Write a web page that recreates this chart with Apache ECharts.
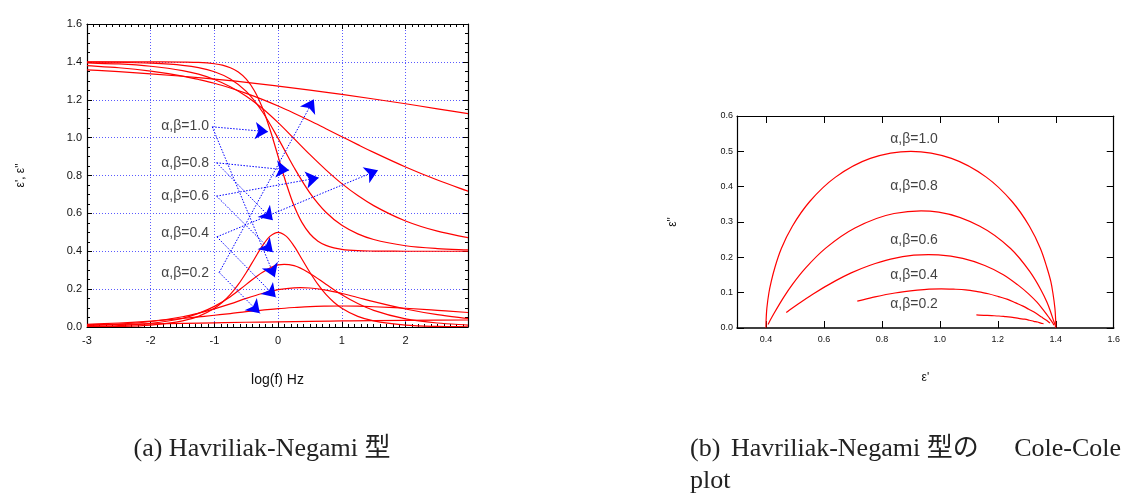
<!DOCTYPE html>
<html>
<head>
<meta charset="utf-8">
<script src="https://cdn.jsdelivr.net/npm/echarts@6/dist/echarts.min.js"></script>
<style>
html,body{margin:0;padding:0;background:#fff;}
#c{width:1123px;height:494px;}
</style>
</head>
<body>
<div id="c"></div>
<script>
// log(f) grids
const xA = [-3,-2.5,-2,-1.5,-1,-0.5,0,0.5,1,1.5,2,2.5,3];
const xB = [-3,-2.5,-2,-1.5,-1.25,-1,-0.75,-0.5,-0.25,0,0.25,0.5,0.75,1,1.25,1.5,2,2.5,3];
const xC = [-3,-2.5,-2,-1.5,-1.25,-1,-0.875,-0.75,-0.625,-0.5,-0.375,-0.25,-0.125,0,0.125,0.25,0.375,0.5,0.625,0.75,0.875,1,1.25,1.5,2,2.5,3];

// alpha,beta = 1.0
const e1_10 = [1.400,1.400,1.400,1.399,1.397,1.390,1.383,1.369,1.347,1.309,1.249,1.160,1.040,0.900,0.760,0.640,0.551,0.491,0.453,0.431,0.418,0.410,0.403,0.401,0.400,0.400,0.400];
const e2_10 = [0.001,0.003,0.010,0.032,0.056,0.099,0.131,0.172,0.225,0.288,0.358,0.427,0.480,0.500,0.480,0.427,0.358,0.288,0.225,0.172,0.131,0.099,0.056,0.032,0.010,0.003,0.001];
// alpha,beta = 0.8
const e1_08 = [1.399,1.398,1.393,1.382,1.370,1.348,1.310,1.244,1.138,0.996,0.842,0.707,0.606,0.537,0.492,0.462,0.429,0.414,0.407];
const e2_08 = [0.003,0.008,0.019,0.046,0.072,0.109,0.160,0.225,0.288,0.328,0.324,0.283,0.226,0.170,0.124,0.088,0.043,0.021,0.010];
// alpha,beta = 0.6
const e1_06 = [1.394,1.389,1.377,1.354,1.335,1.307,1.269,1.219,1.155,1.079,0.995,0.910,0.830,0.757,0.694,0.641,0.560,0.506,0.470];
const e2_06 = [0.008,0.015,0.029,0.054,0.073,0.096,0.122,0.151,0.177,0.197,0.207,0.206,0.195,0.177,0.156,0.134,0.095,0.065,0.044];
// alpha,beta = 0.4
const e1_04 = [1.380,1.369,1.351,1.325,1.307,1.287,1.262,1.234,1.202,1.167,1.129,1.089,1.047,1.005,0.963,0.922,0.845,0.776,0.715];
const e2_04 = [0.014,0.021,0.031,0.045,0.053,0.062,0.071,0.081,0.089,0.097,0.103,0.108,0.110,0.111,0.110,0.107,0.099,0.088,0.076];
// alpha,beta = 0.2
const e1_02 = [1.358,1.348,1.337,1.324,1.309,1.292,1.272,1.251,1.228,1.204,1.179,1.152,1.126];
const e2_02 = [0.012,0.014,0.017,0.019,0.022,0.025,0.027,0.030,0.032,0.034,0.035,0.036,0.037];

// annotation labels
const labelTexts = ['α,β=1.0','α,β=0.8','α,β=0.6','α,β=0.4','α,β=0.2'];
const leftLabelX = [-1.086,-1.086,-1.086,-1.086,-1.086];
const leftLabelY = [1.061,0.865,0.691,0.495,0.284];
const rightLabelX = [0.911,0.911,0.911,0.911,0.911];
const rightLabelY = [0.534,0.401,0.248,0.149,0.067];

// arrows (log f, eps)
const arrowFrom = [[-1.034,1.057],[-1.034,1.057],[-0.966,0.867],[-0.966,0.867],[-0.966,0.691],[-0.966,0.691],[-0.961,0.476],[-0.961,0.476],[-0.925,0.288],[-0.925,0.288]];
const arrowTo   = [[-0.157,1.031],[-0.052,0.263],[0.172,0.828],[-0.083,0.564],[0.638,0.788],[-0.083,0.395],[1.567,0.828],[-0.036,0.157],[0.560,1.202],[-0.287,0.072]];

// tick values for the Cole-Cole x axis
const rightXTicks = [0.4,0.6,0.8,1.0,1.2,1.4,1.6];

const sets = [
  {x:xC,e1:e1_10,e2:e2_10},
  {x:xB,e1:e1_08,e2:e2_08},
  {x:xB,e1:e1_06,e2:e2_06},
  {x:xB,e1:e1_04,e2:e2_04},
  {x:xA,e1:e1_02,e2:e2_02}
];

const RED = '#ff0000';
const BLUE = '#0000ff';
const sans = 'Liberation Sans, Arial, sans-serif';
const serif = '"Liberation Serif", "Noto Sans CJK JP", serif';

// centripetal Catmull-Rom spline through pixel points -> SVG path
function splinePath(P) {
  const n = P.length;
  if (n < 2) return '';
  const ext = [
    [2*P[0][0]-P[1][0], 2*P[0][1]-P[1][1]],
    ...P,
    [2*P[n-1][0]-P[n-2][0], 2*P[n-1][1]-P[n-2][1]]
  ];
  const dist = (a,b) => Math.max(Math.sqrt(Math.hypot(a[0]-b[0], a[1]-b[1])), 1e-6);
  let d = 'M' + P[0][0].toFixed(2) + ' ' + P[0][1].toFixed(2);
  for (let i = 1; i < ext.length - 2; i++) {
    const p0 = ext[i-1], p1 = ext[i], p2 = ext[i+1], p3 = ext[i+2];
    const t1 = dist(p1,p0), t2 = dist(p2,p1), t3 = dist(p3,p2);
    const b1 = [0,1].map(k => (t1*t1*p2[k] - t2*t2*p0[k] + (2*t1*t1 + 3*t1*t2 + t2*t2)*p1[k]) / (3*t1*(t1+t2)));
    const b2 = [0,1].map(k => (t3*t3*p1[k] - t2*t2*p3[k] + (2*t3*t3 + 3*t3*t2 + t2*t2)*p2[k]) / (3*t3*(t3+t2)));
    d += ' C' + b1[0].toFixed(2) + ' ' + b1[1].toFixed(2) + ' ' + b2[0].toFixed(2) + ' ' + b2[1].toFixed(2) + ' ' + p2[0].toFixed(2) + ' ' + p2[1].toFixed(2);
  }
  return d;
}

function curveSeries(pts, xi, yi) {
  return {
    type:'custom', coordinateSystem:'cartesian2d', xAxisIndex:xi, yAxisIndex:yi,
    data: pts, silent:true, z:3, clip:true,
    renderItem: (params, api) => {
      if (params.dataIndex !== 0) return null;
      const px = pts.map(p => api.coord(p));
      return {type:'path', shape:{pathData: splinePath(px)},
        style:{fill:'none', stroke:RED, lineWidth:1.2}};
    }
  };
}

const series = [];
sets.forEach(s => {
  series.push(curveSeries(s.x.map((v,i)=>[v,s.e1[i]]), 0, 0));
  series.push(curveSeries(s.x.map((v,i)=>[v,s.e2[i]]), 0, 0));
  series.push(curveSeries(s.e1.map((v,i)=>[v,s.e2[i]]), 2, 2));
});

series.push({
  type:'lines', coordinateSystem:'cartesian2d', xAxisIndex:0, yAxisIndex:0, silent:true, z:4,
  symbol:['none','arrow'], symbolSize:13,
  lineStyle:{color:BLUE, width:1, type:[1.5,1.5], opacity:1, curveness:0},
  data: arrowFrom.map((p,i)=>({coords:[p, arrowTo[i]]}))
});

series.push({
  type:'scatter', xAxisIndex:0, yAxisIndex:0, symbolSize:0, silent:true, z:5,
  data: leftLabelX.map((v,i)=>({value:[v,leftLabelY[i]], name:labelTexts[i]})),
  label:{show:true, position:'left', distance:0, formatter:p=>p.name, color:'#111', fontSize:14, fontFamily:sans}
});
series.push({
  type:'scatter', xAxisIndex:2, yAxisIndex:2, symbolSize:0, silent:true, z:5,
  data: rightLabelX.map((v,i)=>({value:[v,rightLabelY[i]], name:labelTexts[i]})),
  label:{show:true, position:'inside', formatter:p=>p.name, color:'#111', fontSize:14, fontFamily:sans}
});

const gridLine = {show:true, lineStyle:{color:'#5a5aff', width:1, type:[1,2]}};
const axLine = {show:true, onZero:false, lineStyle:{color:'#000', width:1.2}};

const option = {
  animation:false,
  backgroundColor:'#fff',
  grid:[
    {left:87, right:655, top:24, bottom:167, containLabel:false},
    {left:737, right:5, top:116, bottom:166, containLabel:false}
  ],
  xAxis:[
    {gridIndex:0, type:'value', min:-3, max:2.98, interval:1, position:'bottom',
      axisLine:axLine, axisTick:{inside:true, length:5, lineStyle:{color:'#000'}},
      minorTick:{show:true, splitNumber:10, length:3, lineStyle:{color:'#000'}},
      axisLabel:{show:true, margin:8, color:'#111', fontSize:11, fontFamily:sans, showMaxLabel:false},
      splitLine:gridLine,
      name:'log(f) Hz', nameLocation:'middle', nameGap:46, nameTextStyle:{color:'#111', fontSize:14, fontFamily:sans}},
    {gridIndex:0, type:'value', min:-3, max:2.98, interval:1, position:'top',
      axisLine:axLine, axisTick:{inside:true, length:5, lineStyle:{color:'#000'}},
      minorTick:{show:true, splitNumber:10, length:3, lineStyle:{color:'#000'}},
      axisLabel:{show:false}, splitLine:{show:false}},
    {gridIndex:1, type:'value', min:0.3, max:1.6, position:'bottom',
      axisLine:{show:true, onZero:false, lineStyle:{color:'#000', width:1.5}},
      axisTick:{inside:true, length:7, customValues:rightXTicks, lineStyle:{color:'#000'}},
      axisLabel:{show:true, margin:7, color:'#111', fontSize:9, fontFamily:sans, customValues:rightXTicks, formatter:v=>v.toFixed(1)},
      splitLine:{show:false},
      name:'ε\'', nameLocation:'middle', nameGap:44, nameTextStyle:{color:'#111', fontSize:12, fontFamily:sans}},
    {gridIndex:1, type:'value', min:0.3, max:1.6, position:'top',
      axisLine:axLine, axisTick:{inside:true, length:7, customValues:rightXTicks, lineStyle:{color:'#000'}},
      axisLabel:{show:false, customValues:rightXTicks}, splitLine:{show:false}}
  ],
  yAxis:[
    {gridIndex:0, type:'value', min:0, max:1.6, interval:0.2, position:'left',
      axisLine:axLine, axisTick:{inside:true, length:5, lineStyle:{color:'#000'}},
      minorTick:{show:true, splitNumber:4, length:3, lineStyle:{color:'#000'}},
      axisLabel:{show:true, margin:5, color:'#111', fontSize:11, fontFamily:sans, formatter:v=>v.toFixed(1)},
      splitLine:gridLine,
      name:'ε\', ε"', nameLocation:'middle', nameGap:60, nameRotate:90, nameTextStyle:{color:'#111', fontSize:12, fontFamily:sans}},
    {gridIndex:0, type:'value', min:0, max:1.6, interval:0.2, position:'right',
      axisLine:axLine, axisTick:{inside:true, length:5, lineStyle:{color:'#000'}},
      minorTick:{show:true, splitNumber:4, length:3, lineStyle:{color:'#000'}},
      axisLabel:{show:false}, splitLine:{show:false}},
    {gridIndex:1, type:'value', min:0, max:0.6, interval:0.1, position:'left',
      axisLine:axLine, axisTick:{inside:true, length:7, lineStyle:{color:'#000'}},
      axisLabel:{show:true, margin:4, color:'#111', fontSize:9, fontFamily:sans, formatter:v=>v.toFixed(1)},
      splitLine:{show:false},
      name:'ε"', nameLocation:'middle', nameGap:58, nameRotate:90, nameTextStyle:{color:'#111', fontSize:12, fontFamily:sans}},
    {gridIndex:1, type:'value', min:0, max:0.6, interval:0.1, position:'right',
      axisLine:axLine, axisTick:{inside:true, length:7, lineStyle:{color:'#000'}},
      axisLabel:{show:false}, splitLine:{show:false}}
  ],
  graphic:[
    {type:'text', x:262, y:449, style:{text:'(a) Havriliak-Negami 型', font:'26px ' + serif, fill:'#222', align:'center', verticalAlign:'middle'}},
    {type:'text', x:690, y:449, style:{text:'(b)', font:'26px ' + serif, fill:'#222', align:'left', verticalAlign:'middle'}},
    {type:'text', x:731, y:449, style:{text:'Havriliak-Negami 型の', font:'26px ' + serif, fill:'#222', align:'left', verticalAlign:'middle'}},
    {type:'text', x:1121, y:449, style:{text:'Cole-Cole', font:'26px ' + serif, fill:'#222', align:'right', verticalAlign:'middle'}},
    {type:'text', x:690, y:481, style:{text:'plot', font:'26px ' + serif, fill:'#222', align:'left', verticalAlign:'middle'}}
  ],
  series:series
};

const chart = echarts.init(document.getElementById('c'), null, {renderer:'canvas'});
chart.setOption(option);
</script>
</body>
</html>
